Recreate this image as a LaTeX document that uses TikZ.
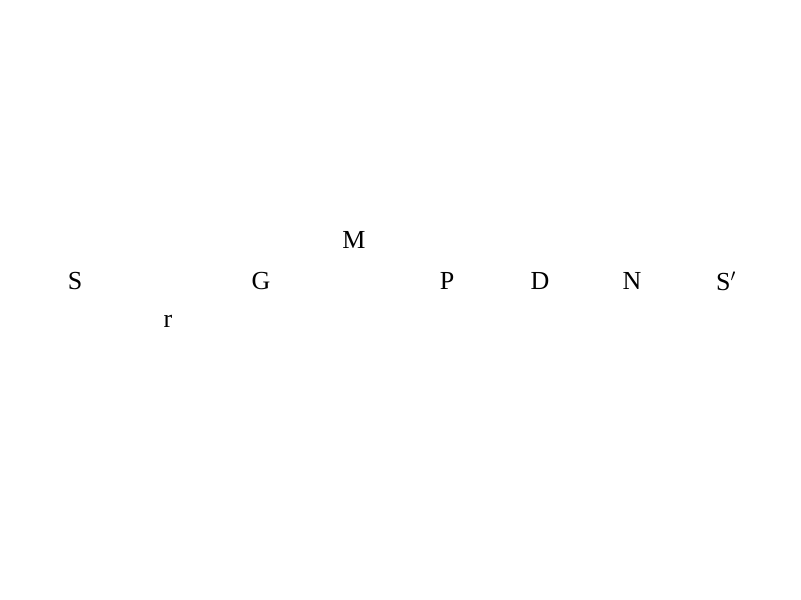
\documentclass[tikz,border=0pt]{standalone}
\usepackage{fontspec}
\setmainfont{Liberation Serif}
\begin{document}
\begin{tikzpicture}[x=1pt,y=-1pt,lbl/.style={inner sep=0pt,font=\fontsize{26}{30}\selectfont}]
\useasboundingbox (0,0) rectangle (801,600);
\node[lbl] (M) at (354,240) {M};
\node[lbl] (S) at (75,281) {S};
\node[lbl] (G) at (261,281) {G};
\node[lbl] (r) at (168,321) {r};
\node[lbl] (P) at (447,281) {P};
\node[lbl] (D) at (540,281) {D};
\node[lbl] (N) at (632,281) {N};
\node[lbl] (Sp) at (726,281) {S$'$};
\end{tikzpicture}
\end{document}
